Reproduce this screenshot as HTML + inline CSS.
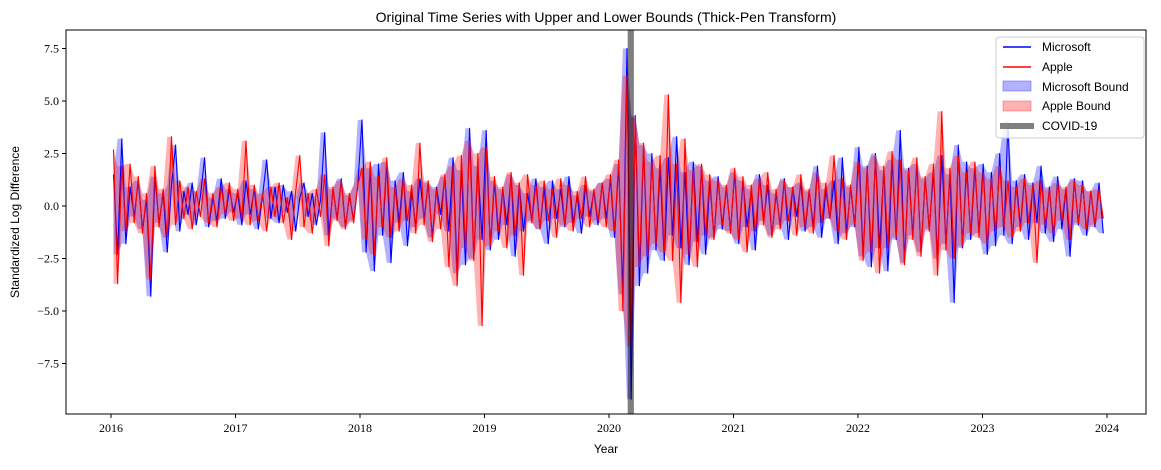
<!DOCTYPE html>
<html><head><meta charset="utf-8"><style>
body{margin:0;background:#fff;}
svg text{font-family:"Liberation Sans","DejaVu Sans",sans-serif;}
.tick{font-family:"Liberation Serif",serif;font-size:12px;}
</style></head><body>
<svg id="chart" width="1161" height="465" xmlns="http://www.w3.org/2000/svg">
<rect width="1161" height="465" fill="#fff"/>
<text x="606" y="22" text-anchor="middle" font-size="14">Original Time Series with Upper and Lower Bounds (Thick-Pen Transform)</text>
<text x="606" y="453" text-anchor="middle" font-size="12">Year</text>
<text transform="translate(19,222) rotate(-90)" text-anchor="middle" font-size="12">Standardized Log Difference</text>
<g id="plot"></g>
<g id="axes"></g>
<g>
<rect x="996" y="37" width="148" height="101" rx="3" fill="#fff" fill-opacity="0.85" stroke="#ccc"/>
<line x1="1003" y1="47" x2="1031" y2="47" stroke="#0000ff" stroke-width="1.5"/>
<text x="1042" y="51" font-size="12">Microsoft</text>
<line x1="1003" y1="67" x2="1031" y2="67" stroke="#ff0000" stroke-width="1.5"/>
<text x="1042" y="71" font-size="12">Apple</text>
<rect x="1003" y="81" width="28" height="10" fill="#0000ff" fill-opacity="0.3" stroke="#0000ff" stroke-opacity="0.3"/>
<text x="1042" y="91" font-size="12">Microsoft Bound</text>
<rect x="1003" y="101" width="28" height="10" fill="#ff0000" fill-opacity="0.3" stroke="#ff0000" stroke-opacity="0.3"/>
<text x="1042" y="110" font-size="12">Apple Bound</text>
<line x1="1000" y1="126" x2="1034" y2="126" stroke="#808080" stroke-width="6"/>
<text x="1042" y="130" font-size="12">COVID-19</text>
</g>
</svg>
<script>
const msft=[1.5,-2.3,3.2,-1.8,0.9,-0.5,1.2,-1.1,0.3,-4.3,1.4,-0.8,0.6,-2.2,1.0,2.9,-1.2,0.7,-0.4,1.1,-0.9,0.5,2.3,-1.0,0.4,-0.7,1.3,-0.6,0.8,-0.3,
0.6,-0.9,1.2,-0.4,0.8,-1.1,0.5,2.2,-0.6,0.9,-0.8,1.0,-0.3,0.7,-1.2,0.4,1.1,-0.5,0.6,-0.9,0.3,3.5,-1.4,0.8,-0.6,1.3,-1.0,0.5,-0.7,1.0,
4.1,-2.2,1.8,-3.1,2.0,-1.4,2.1,-2.7,1.2,-0.8,1.6,-1.9,0.7,-1.0,1.3,-0.6,1.1,-1.5,0.9,-0.4,1.4,-1.2,2.3,-3.2,1.7,-2.8,3.7,-2.5,1.9,-1.6,
3.6,-2.1,1.2,-1.6,0.8,-0.9,1.5,-2.4,1.0,-1.2,0.6,-0.7,1.3,-1.1,0.9,-1.8,1.2,-0.6,0.8,-1.0,1.4,-0.8,0.5,-1.3,1.0,-0.5,0.7,-0.9,1.1,-0.6,
1.3,-1.5,2.0,-4.2,7.5,-9.2,4.3,-3.8,2.9,-3.2,2.5,-2.1,1.8,-2.6,2.3,-1.4,3.3,-2.0,1.6,-2.8,2.1,-1.7,1.9,-2.3,1.2,-1.5,1.4,-1.1,0.9,-1.2,
1.6,-1.8,1.2,-1.0,0.8,-2.1,1.5,-0.7,1.0,-1.4,0.6,-0.9,1.3,-1.6,0.9,-0.5,1.1,-1.2,0.7,-1.0,1.9,-1.5,0.8,-0.6,1.2,-1.8,2.3,-1.3,0.9,-1.0,
2.8,-2.4,1.9,-2.9,2.5,-2.0,1.7,-3.1,2.2,-1.6,3.6,-2.7,1.8,-1.4,2.0,-2.2,1.3,-1.1,1.6,-2.5,2.4,-1.8,1.5,-4.6,2.9,-2.0,2.1,-1.6,1.8,-1.3,
2.0,-2.3,1.6,-1.9,2.5,-1.4,4.0,-1.8,1.2,-1.0,1.5,-1.6,1.1,-0.8,1.9,-1.3,0.9,-1.7,1.4,-1.1,0.8,-2.4,1.3,-0.9,1.2,-1.4,0.7,-1.0,1.1,-1.3];
const aapl=[2.7,-3.7,1.9,-1.2,2.0,-0.8,1.4,-1.3,0.6,-3.5,1.9,-1.0,0.8,-1.5,3.3,-0.9,1.2,-0.6,0.9,-1.1,0.7,-0.5,1.3,-0.8,0.6,-1.0,0.9,-0.4,1.1,-0.7,
0.8,-0.6,3.1,-0.9,1.0,-0.7,0.6,-1.2,0.9,-0.5,1.1,-0.8,0.4,-1.6,0.7,2.4,-1.0,0.6,-1.3,0.8,-0.5,1.5,-1.9,0.9,-0.7,1.2,-1.1,0.6,-0.8,1.0,
1.8,-1.6,2.1,-2.3,1.4,-1.0,2.3,-1.5,0.9,-1.2,1.3,-0.7,1.0,-1.3,3.0,-0.9,1.2,-1.7,0.8,-1.1,1.5,-2.9,1.9,-3.8,2.4,-2.0,3.1,-2.6,2.5,-5.7,
2.8,-1.9,1.4,-1.2,0.9,-2.0,1.6,-1.4,1.1,-3.3,1.5,-0.8,1.0,-1.1,1.2,-0.7,0.8,-1.5,1.3,-0.9,1.0,-1.2,0.7,-0.6,1.4,-1.0,0.8,-0.7,1.1,-1.0,
1.5,-1.2,2.2,-5.0,6.2,-6.7,4.2,-2.9,3.0,-2.4,2.1,-1.8,2.4,-2.2,5.3,-2.6,2.0,-4.6,3.2,-2.3,1.7,-2.9,2.0,-1.4,1.5,-1.6,1.2,-0.9,1.0,-1.3,
1.8,-1.6,1.4,-2.2,1.0,-1.2,1.3,-0.9,1.6,-1.5,0.8,-1.1,1.2,-0.7,0.9,-1.4,1.5,-1.0,0.8,-1.3,1.6,-0.8,1.1,-0.6,2.4,-1.2,1.3,-1.6,1.0,-0.9,
2.1,-2.6,1.8,-2.2,2.4,-3.2,1.9,-2.0,2.6,-1.5,2.2,-2.8,1.7,-1.6,2.3,-2.4,1.4,-1.2,2.0,-3.3,4.5,-2.1,1.8,-2.5,2.4,-1.9,1.6,-1.3,2.1,-1.5,
1.6,-1.8,1.3,-1.2,1.9,-1.0,1.2,-1.5,0.9,-1.2,1.3,-0.8,1.0,-2.7,1.2,-0.9,0.8,-1.3,1.1,-0.7,0.9,-1.6,1.2,-0.8,1.0,-1.1,0.7,-0.9,0.8,-0.6];
const startYear=2016.02, endYear=2023.97;
const xTicks=[2016,2017,2018,2019,2020,2021,2022,2023,2024];
const yTicks=[7.5,5.0,2.5,0.0,-2.5,-5.0,-7.5];
const yTickLabels=["7.5","5.0","2.5","0.0","\u22122.5","\u22125.0","\u22127.5"];
const covid=[2020.15,2020.2];

const NS="http://www.w3.org/2000/svg";
const L=66,R=1146,T=30,B=414;
const x=t=>111+(t-2016)*(1107-111)/8;
const y=v=>206-v*21;
const dateAt=(i,n)=>startYear+i*(endYear-startYear)/(n-1);
const plot=document.getElementById('plot'), axes=document.getElementById('axes');
function mk(tag,attrs,parent){const e=document.createElementNS(NS,tag);for(const k in attrs)e.setAttribute(k,attrs[k]);parent.appendChild(e);return e;}
function bounds(arr){const up=[],lo=[];for(let i=0;i<arr.length;i++){const w=arr.slice(i,i+2);up.push(Math.max(...w));lo.push(Math.min(...w));}return[up,lo];}
function area(arr,color,name){const [up,lo]=bounds(arr);let d='';up.forEach((v,i)=>{d+=(i?'L':'M')+x(dateAt(i,arr.length)).toFixed(1)+','+y(v).toFixed(1);});
for(let i=lo.length-1;i>=0;i--)d+='L'+x(dateAt(i,arr.length)).toFixed(1)+','+y(lo[i]).toFixed(1);
const p=mk('path',{d:d+'Z',fill:color,'fill-opacity':0.3,stroke:'none'},plot);

}
function line(arr,color,name){const d=arr.map((v,i)=>(i?'L':'M')+x(dateAt(i,arr.length)).toFixed(1)+','+y(v).toFixed(1)).join('');
const p=mk('path',{d:d,fill:'none',stroke:color,'stroke-width':1.1,'stroke-linejoin':'round'},plot);

}
area(msft,'#0000ff','microsoft-bound');
area(aapl,'#ff0000','apple-bound');
line(msft,'#0000ff','microsoft-line');
line(aapl,'#ff0000','apple-line');
const cv=mk('rect',{x:x(covid[0]),y:T,width:x(covid[1])-x(covid[0]),height:B-T,fill:'#000','fill-opacity':0.5},plot);


mk('rect',{x:L,y:T,width:R-L,height:B-T,fill:'none',stroke:'#000','stroke-width':1},axes);
xTicks.forEach(t=>{mk('line',{x1:x(t),x2:x(t),y1:B,y2:B+4,stroke:'#000'},axes);
const tx=mk('text',{x:x(t),y:B+18,'text-anchor':'middle',class:'tick'},axes);tx.textContent=t;

});
yTicks.forEach((v,i)=>{mk('line',{x1:L-4,x2:L,y1:y(v),y2:y(v),stroke:'#000'},axes);
const tx=mk('text',{x:L-7,y:y(v)+4,'text-anchor':'end',class:'tick'},axes);tx.textContent=yTickLabels[i];

});
</script>
</body></html>
